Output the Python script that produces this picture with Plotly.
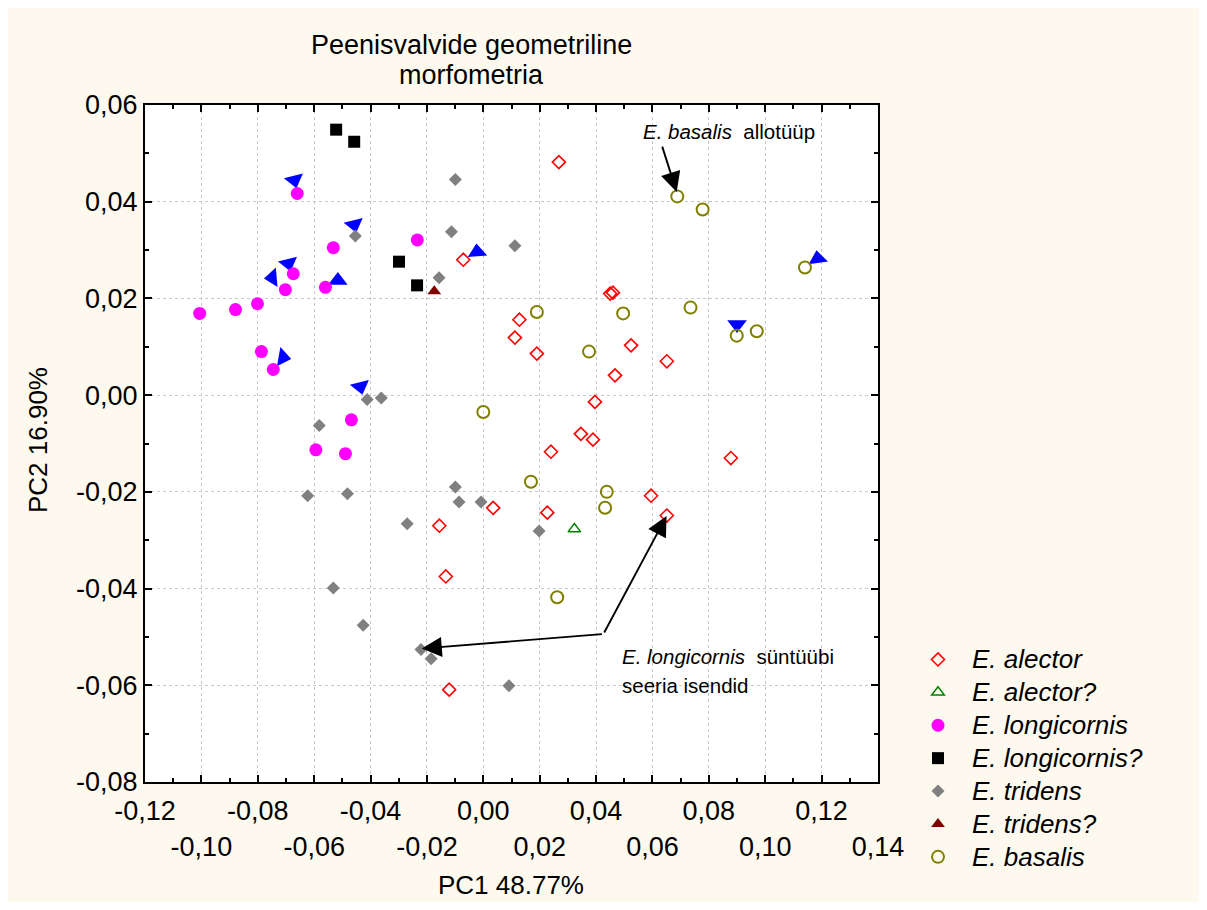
import plotly.graph_objects as go

# ---------------- data (PC1, PC2) ----------------
alector_x = [0.0268, -0.0071, 0.0450, 0.0460, 0.0128, 0.0112, 0.0190, 0.0524, 0.0467, 0.0651,
             0.0396, 0.0346, 0.0389, 0.0240, 0.0035, 0.0227, -0.0156, -0.0133, -0.0121, 0.0878,
             0.0595, 0.0651]
alector_y = [0.0482, 0.0280, 0.0210, 0.0212, 0.0156, 0.0119, 0.0086, 0.0103, 0.0041, 0.0070,
             -0.0014, -0.0080, -0.0092, -0.0117, -0.0233, -0.0243, -0.0270, -0.0375, -0.0609, -0.0130,
             -0.0208, -0.0249]

alector_q_x = [0.0323]
alector_q_y = [-0.0277]

longicornis_x = [-0.0660, -0.0532, -0.0234, -0.0674, -0.0702, -0.0560, -0.0801, -0.0879, -0.1006,
                 -0.0787, -0.0745, -0.0468, -0.0594, -0.0489]
longicornis_y = [0.0417, 0.0305, 0.0321, 0.0251, 0.0218, 0.0223, 0.0189, 0.0177, 0.0169,
                 0.0090, 0.0053, -0.0051, -0.0113, -0.0121]

longicornis_q_x = [-0.0522, -0.0458, -0.0299, -0.0235]
longicornis_q_y = [0.0549, 0.0524, 0.0276, 0.0227]

tridens_x = [-0.0099, -0.0113, 0.0112, -0.0157, -0.0454, -0.0412, -0.0362, -0.0582, -0.0623, -0.0482,
             -0.0099, -0.0086, -0.0008, -0.0270, 0.0198, -0.0532, -0.0426, -0.0221, -0.0185, 0.0091]
tridens_y = [0.0446, 0.0338, 0.0309, 0.0243, 0.0329, -0.0009, -0.0006, -0.0063, -0.0208, -0.0204,
             -0.0190, -0.0221, -0.0221, -0.0266, -0.0281, -0.0399, -0.0476, -0.0526, -0.0545, -0.0601]

tridens_q_x = [-0.0174]
tridens_q_y = [0.0215]

basalis_x = [0.0688, 0.0778, 0.1141, 0.0190, 0.0496, 0.0735, 0.0375, 0.0899, 0.0970, 0.0000,
             0.0169, 0.0438, 0.0432, 0.0262]
basalis_y = [0.0411, 0.0384, 0.0264, 0.0172, 0.0169, 0.0181, 0.0090, 0.0123, 0.0132, -0.0035,
             -0.0179, -0.0200, -0.0233, -0.0418]

# blue oriented triangles (not in legend)
blue_x = [-0.0670, -0.0458, -0.0691, -0.0748, -0.0516, -0.0711, -0.0436, -0.0022, 0.1186, 0.0900]
blue_y = [0.0445, 0.0353, 0.0273, 0.0243, 0.0237, 0.0078, 0.0018, 0.0296, 0.0282, 0.0146]
blue_angle = [166, 166, 166, -95, 0, 100, 166, -5, -8, 180]

# ---------------- ticks ----------------
x_tickvals = [-0.12, -0.10, -0.08, -0.06, -0.04, -0.02, 0.00, 0.02, 0.04, 0.06, 0.08, 0.10, 0.12, 0.14]
x_row1_text = ["-0,12", "", "-0,08", "", "-0,04", "", "0,00", "", "0,04", "", "0,08", "", "0,12", ""]
x_row2_vals = [-0.10, -0.06, -0.02, 0.02, 0.06, 0.10, 0.14]
x_row2_text = ["-0,10", "-0,06", "-0,02", "0,02", "0,06", "0,10", "0,14"]
y_tickvals = [-0.08, -0.06, -0.04, -0.02, 0.00, 0.02, 0.04, 0.06]
y_ticktext = ["-0,08", "-0,06", "-0,04", "-0,02", "0,00", "0,02", "0,04", "0,06"]

FONT = "Arial, Liberation Sans, sans-serif"
CREAM = "#FEF9EE"


def leg(name):
    return "<span style='font-size:26px'>" + name + "</span>"


fig = go.Figure()

fig.add_trace(go.Scatter(x=blue_x, y=blue_y, mode="markers", showlegend=False, name="",
                         marker=dict(symbol="triangle-up", size=17, color="#0000FF",
                                     angle=blue_angle, line=dict(width=0))))
fig.add_trace(go.Scatter(x=alector_x, y=alector_y, mode="markers", name=leg("E. alector"),
                         marker=dict(symbol="diamond-open", size=10, color="#FF0000",
                                     line=dict(width=1.6, color="#FF0000"))))
fig.add_trace(go.Scatter(x=alector_q_x, y=alector_q_y, mode="markers", name=leg("E. alector?"),
                         marker=dict(symbol="triangle-up-open", size=11, color="#008000",
                                     line=dict(width=1.5, color="#008000"))))
fig.add_trace(go.Scatter(x=longicornis_x, y=longicornis_y, mode="markers", name=leg("E. longicornis"),
                         marker=dict(symbol="circle", size=13, color="#FF00FF", line=dict(width=0))))
fig.add_trace(go.Scatter(x=longicornis_q_x, y=longicornis_q_y, mode="markers", name=leg("E. longicornis?"),
                         marker=dict(symbol="square", size=12, color="#000000", line=dict(width=0))))
fig.add_trace(go.Scatter(x=tridens_x, y=tridens_y, mode="markers", name=leg("E. tridens"),
                         marker=dict(symbol="diamond", size=10, color="#808080", line=dict(width=0))))
fig.add_trace(go.Scatter(x=tridens_q_x, y=tridens_q_y, mode="markers", name=leg("E. tridens?"),
                         marker=dict(symbol="triangle-up", size=12, color="#800000", line=dict(width=0))))
fig.add_trace(go.Scatter(x=basalis_x, y=basalis_y, mode="markers", name=leg("E. basalis"),
                         marker=dict(symbol="circle-open", size=12, color="#808000",
                                     line=dict(width=2, color="#808000"))))
# dummy trace so the second label-row axis is drawn
fig.add_trace(go.Scatter(x=[None], y=[None], xaxis="x2", showlegend=False, hoverinfo="skip"))

# The page body has an 8px margin, which gives the white frame round the cream area.
OFF = 8
W, H = 1207 - 2 * OFF, 910 - 2 * OFF
L, R, T, B = 145, 878, 105, 782          # plot frame in picture pixels


def pxp(xp):
    return (xp - L) / (R - L)


def pyp(yp):
    return (B - yp) / (B - T)


axis_common = dict(showline=True, linewidth=2, linecolor="black", mirror="ticks",
                   ticks="inside", ticklen=7, tickwidth=2, tickcolor="black",
                   showgrid=True, gridcolor="#c8c8c8", griddash="dot", gridwidth=1,
                   zeroline=False, tickfont=dict(family=FONT, size=27, color="black"))

fig.update_layout(
    width=W, height=H,
    margin=dict(l=L - OFF, r=W - (R - OFF), t=T - OFF, b=H - (B - OFF), pad=0, autoexpand=False),
    paper_bgcolor=CREAM, plot_bgcolor="white",
    xaxis=dict(range=[-0.12, 0.14], tickmode="array", tickvals=x_tickvals, ticktext=x_row1_text,
               minor=dict(dtick=0.01, tick0=0, ticks="inside", ticklen=4, tickwidth=1.5,
                          tickcolor="black", showgrid=False),
               ticklabelstandoff=4, **axis_common),
    xaxis2=dict(range=[-0.12, 0.14], overlaying="x", anchor="y", side="bottom",
                tickmode="array", tickvals=x_row2_vals, ticktext=x_row2_text,
                showgrid=False, showline=False, ticks="", zeroline=False,
                ticklabelstandoff=46, tickfont=dict(family=FONT, size=27, color="black")),
    yaxis=dict(range=[-0.08, 0.06], tickmode="array", tickvals=y_tickvals, ticktext=y_ticktext,
               minor=dict(dtick=0.01, tick0=0, ticks="inside", ticklen=4, tickwidth=1.5,
                          tickcolor="black", showgrid=False),
               ticklabelstandoff=0, **axis_common),
    showlegend=True,
    legend=dict(x=pxp(904), y=pyp(638), xanchor="left", yanchor="top",
                bgcolor="rgba(0,0,0,0)", borderwidth=0, itemwidth=58,
                font=dict(family=FONT, size=23, color="black", style="italic")),
)

txt = dict(xanchor="center", yanchor="middle", showarrow=False)
annotations = [
    dict(text="Peenisvalvide geometriline", x=pxp(471), y=pyp(45), xref="paper", yref="paper",
         font=dict(family=FONT, size=27, color="black"), **txt),
    dict(text="morfometria", x=pxp(471), y=pyp(75), xref="paper", yref="paper",
         font=dict(family=FONT, size=27, color="black"), **txt),
    dict(text="PC1 48.77%", x=pxp(511), y=pyp(885), xref="paper", yref="paper",
         font=dict(family=FONT, size=26, color="black"), **txt),
    dict(text="PC2 16.90%", x=pxp(38), y=pyp(440), xref="paper", yref="paper", textangle=-90,
         font=dict(family=FONT, size=26, color="black"), **txt),
    dict(text="<i>E. basalis</i>  allotüüp", x=0.0871, y=0.0545, xref="x", yref="y",
         font=dict(family=FONT, size=20.5, color="black"), **txt),
    dict(text="<i>E. longicornis</i>  süntüübi", x=0.0485, y=-0.0541, xref="x", yref="y",
         xanchor="left", yanchor="middle", showarrow=False,
         font=dict(family=FONT, size=20.5, color="black")),
    dict(text="seeria isendid", x=0.0485, y=-0.0601, xref="x", yref="y",
         xanchor="left", yanchor="middle", showarrow=False,
         font=dict(family=FONT, size=20.5, color="black")),
]
arrow_style = dict(text="", showarrow=True, arrowhead=2, arrowsize=2.1, arrowwidth=1.9,
                   arrowcolor="black", xref="x", yref="y", axref="x", ayref="y")
annotations += [
    dict(x=0.0686, y=0.0420, ax=0.0633, ay=0.0517, **arrow_style),
    dict(x=0.0650, y=-0.0250, ax=0.0426, ay=-0.0494, **arrow_style),
    dict(x=-0.0218, y=-0.0524, ax=0.0426, ay=-0.0494, **arrow_style),
]
fig.update_layout(annotations=annotations)

fig.write_html("out.html")
